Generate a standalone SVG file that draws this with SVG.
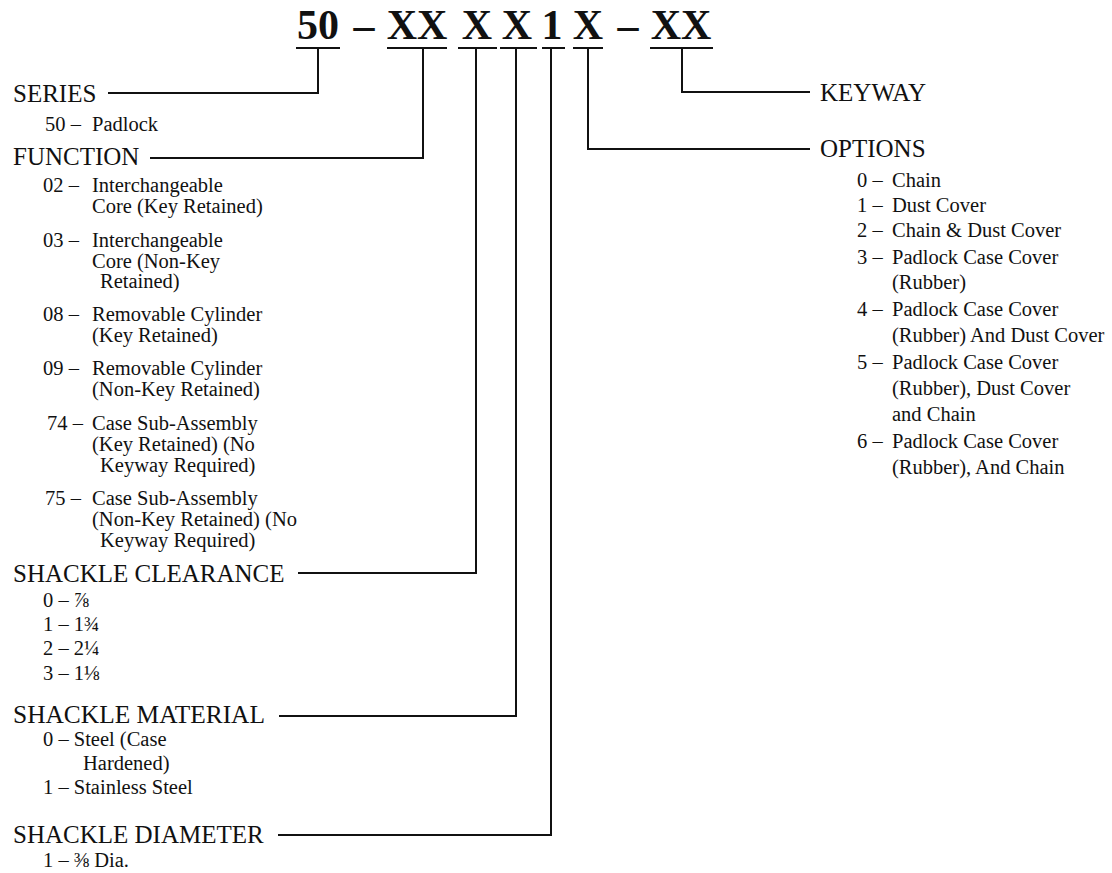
<svg xmlns="http://www.w3.org/2000/svg" width="1112" height="873" viewBox="0 0 1112 873">
<style>
text{font-family:"Liberation Serif","Times New Roman",serif;fill:#111}
.code{font-size:42px;font-weight:bold;text-anchor:middle}
.h{font-size:25px}
.i{font-size:20.5px}
.r{font-size:20.5px}
.ln{stroke:#111;stroke-width:2;fill:none}
</style>
<rect width="1112" height="873" fill="#fff"/>
<g id="code">
<text class="code" x="318" y="39">50</text>
<text class="code" x="364" y="39">–</text>
<text class="code" x="417" y="39">XX</text>
<text class="code" x="477" y="39">X</text>
<text class="code" x="517" y="39">X</text>
<text class="code" x="552" y="39">1</text>
<text class="code" x="588" y="39">X</text>
<text class="code" x="628" y="39">–</text>
<text class="code" x="681" y="39">XX</text>
<path class="ln" d="M296 48H340M387 48H447M458 48H497M500 48H537M542 48H565M573 48H603M650 48H713"/>
</g>
<g id="connectors" class="ln">
<path d="M318 48V93H108"/>
<path d="M423 48V158H150"/>
<path d="M476 48V573H298"/>
<path d="M516 48V716H279"/>
<path d="M551 48V835H278"/>
<path d="M588 48V149H810"/>
<path d="M682 48V92H810"/>
</g>
<g id="series">
<text class="h" x="13" y="102">SERIES</text>
<text class="i" y="131"><tspan x="45">50 –</tspan><tspan x="92">Padlock</tspan></text>
</g>
<g id="function">
<text class="h" x="13" y="165">FUNCTION</text>
<text class="i" y="192"><tspan x="43">02 –</tspan><tspan x="92">Interchangeable</tspan></text>
<text class="i" x="92" y="213">Core (Key Retained)</text>
<text class="i" y="247"><tspan x="43">03 –</tspan><tspan x="92">Interchangeable</tspan></text>
<text class="i" x="92" y="268">Core (Non-Key</text>
<text class="i" x="100" y="288">Retained)</text>
<text class="i" y="321"><tspan x="43">08 –</tspan><tspan x="92">Removable Cylinder</tspan></text>
<text class="i" x="92" y="342">(Key Retained)</text>
<text class="i" y="375"><tspan x="43">09 –</tspan><tspan x="92">Removable Cylinder</tspan></text>
<text class="i" x="92" y="396">(Non-Key Retained)</text>
<text class="i" y="430"><tspan x="47">74 –</tspan><tspan x="92">Case Sub-Assembly</tspan></text>
<text class="i" x="92" y="451">(Key Retained) (No</text>
<text class="i" x="100" y="472">Keyway Required)</text>
<text class="i" y="505"><tspan x="45">75 –</tspan><tspan x="92">Case Sub-Assembly</tspan></text>
<text class="i" x="92" y="526">(Non-Key Retained) (No</text>
<text class="i" x="100" y="547">Keyway Required)</text>
</g>
<g id="shackle-clearance">
<text class="h" x="13" y="582">SHACKLE CLEARANCE</text>
<text class="i" x="43" y="607">0 – ⅞</text>
<text class="i" x="43" y="631">1 – 1¾</text>
<text class="i" x="43" y="655">2 – 2¼</text>
<text class="i" x="43" y="680">3 – 1⅛</text>
</g>
<g id="shackle-material">
<text class="h" x="13" y="723" textLength="252" lengthAdjust="spacingAndGlyphs">SHACKLE MATERIAL</text>
<text class="i" x="43" y="746">0 – Steel (Case</text>
<text class="i" x="83" y="770">Hardened)</text>
<text class="i" x="43" y="794">1 – Stainless Steel</text>
</g>
<g id="shackle-diameter">
<text class="h" x="13" y="843">SHACKLE DIAMETER</text>
<text class="i" x="43" y="867">1 – ⅜ Dia.</text>
</g>
<g id="keyway">
<text class="h" x="820" y="101">KEYWAY</text>
</g>
<g id="options">
<text class="h" x="820" y="157">OPTIONS</text>
<text class="r" y="187"><tspan x="857">0 –</tspan><tspan x="892">Chain</tspan></text>
<text class="r" y="212"><tspan x="857">1 –</tspan><tspan x="892">Dust Cover</tspan></text>
<text class="r" y="237"><tspan x="857">2 –</tspan><tspan x="892">Chain &amp; Dust Cover</tspan></text>
<text class="r" y="264"><tspan x="857">3 –</tspan><tspan x="892">Padlock Case Cover</tspan></text>
<text class="r" x="892" y="289">(Rubber)</text>
<text class="r" y="316"><tspan x="857">4 –</tspan><tspan x="892">Padlock Case Cover</tspan></text>
<text class="r" x="892" y="342">(Rubber) And Dust Cover</text>
<text class="r" y="369"><tspan x="857">5 –</tspan><tspan x="892">Padlock Case Cover</tspan></text>
<text class="r" x="892" y="395">(Rubber), Dust Cover</text>
<text class="r" x="892" y="421">and Chain</text>
<text class="r" y="448"><tspan x="857">6 –</tspan><tspan x="892">Padlock Case Cover</tspan></text>
<text class="r" x="892" y="474">(Rubber), And Chain</text>
</g>
</svg>
